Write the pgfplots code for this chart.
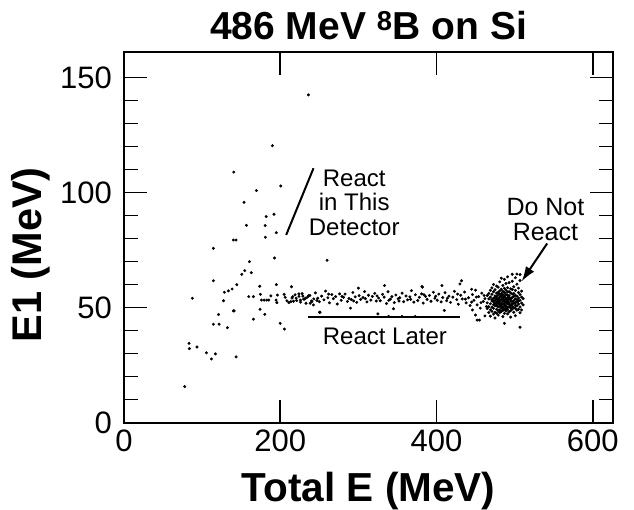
\documentclass[border=0pt]{standalone}
\usepackage{fontspec}
\setmainfont{Liberation Sans}
\usepackage{pgfplots}
\usepackage{pgfplotstable}
\pgfplotsset{compat=1.18}
\usetikzlibrary{arrows.meta}

\pgfplotstableread{
X Y
236 142.5
190 120.4
140.5 108.9
200.7 102.9
169.5 100.9
153.7 95.8
182 89.6
192 90.6
156.7 85.8
180.7 85.7
195 82.6
181 80.6
140 79.4
143.5 79.4
114.4 75.8
192.6 71.6
160.6 70
154.6 66.1
150.8 64.5
163 65.2
114.4 61.7
144.4 60
138.4 58.1
133.7 57.3
128.5 56.7
127.3 53
87.5 54.1
141 48.6
121 47
114.4 42.8
121.7 42.8
132.4 41.3
83.3 34.5
83.7 32.2
93.5 32.9
105.5 30.4
117 29.9
111.9 27.7
143.5 28.6
77.7 15.7
173.8 59.3
195 60
214.4 59.1
159.7 54.8
165.7 54.8
174.7 55.8
176 53.3
179.4 53.3
182.8 53.3
185.4 53.3
188 55.1
194.7 53.3
195.7 52.2
196.4 55.5
205 55.8
206.3 54.5
208.5 53
211 52.2
213.6 52.6
216 54.8
220.4 54.1
223.8 56
225.9 53.3
229.8 53.7
232.3 54.1
236.2 55.2
238.3 51.9
240.5 52.6
242.5 51.2
250.3 48
174.2 49.3
180.2 47.1
165.7 45
199.9 43.2
205.4 40.7
140 48.6
}\scatteredtab

\pgfplotstableread{
X Y
215 54.2
217 52.8
219 55.6
221 53.1
224 54.9
226 52.4
228 56.1
231 53.7
233 51.9
235 54.6
238 55.3
240 52.9
243 53.8
245 56.4
248 54.1
250 52.6
253 55.0
256 53.4
258 57.2
261 54.3
263 52.1
266 55.7
268 53.9
271 54.8
273 51.6
276 56.0
278 53.2
281 54.5
283 55.9
286 52.7
288 54.0
291 53.5
293 56.6
296 54.7
298 52.3
301 55.2
303 53.6
306 54.4
308 57.0
311 52.5
313 55.4
316 53.3
318 54.9
321 56.2
323 52.9
326 54.2
328 53.0
331 55.8
333 54.6
336 51.8
338 56.9
341 53.7
343 54.8
346 52.2
348 55.5
351 53.9
353 54.3
356 56.3
358 52.6
361 55.1
363 53.4
366 54.7
368 57.4
371 52.4
373 55.6
376 53.1
378 54.5
381 56.0
383 52.0
386 54.9
388 53.6
391 55.3
393 52.8
396 56.7
398 54.1
401 53.2
403 55.9
406 52.5
408 54.4
411 56.5
413 53.0
416 55.0
418 52.3
421 54.6
423 57.1
426 53.5
428 51.5
431 55.4
433 53.8
436 56.8
438 52.1
441 54.3
443 50.9
446 55.7
448 53.2
450 57.6
452 51.2
454 54.8
456 49.8
458 56.3
460 52.7
462 53.9
464 50.5
333.5 59.6
381.4 59.2
407 59.6
260 70.6
251 48
325 47.3
338.7 46.2
355.8 46.2
372.8 46.2
432 61.7
445 58
382 58.9
300 58.5
345 49.5
290 49.8
410 48.8
430 60.3
450 46.8
455 44.6
446 49
462 46.4
452 44.6
229 55.0
247 53.1
262 55.9
279 54.9
294 52.9
309 53.9
324 55.1
339 53.2
352 52.9
367 53.6
384 55.6
399 55.0
414 54.1
427 55.9
437 53.7
445 52.4
451 54.6
457 52.2
461 55.3
}\bandtab

\pgfplotstableread{
X Y
465 52.1
465 49.6
465 55.3
467 50.4
467 53.8
467 47.9
467 56.2
469 51.7
469 54.6
469 49.1
469 57.5
469 46.3
471 52.9
471 50.2
471 55.8
471 48.4
471 58.6
471 53.5
473 51.3
473 54.1
473 49.7
473 56.9
473 47.2
473 52.6
473 60.1
475 53.2
475 50.8
475 55.1
475 48.0
475 57.8
475 51.9
475 45.5
475 54.4
477 52.4
477 49.3
477 56.3
477 50.9
477 54.8
477 47.6
477 59.4
477 53.7
477 51.1
479 51.8
479 54.0
479 48.7
479 56.7
479 50.3
479 53.1
479 58.9
479 46.8
479 55.5
479 52.2
481 53.6
481 50.6
481 55.9
481 49.0
481 52.7
481 57.3
481 47.9
481 54.5
481 51.4
481 61.2
483 52.0
483 54.9
483 49.8
483 56.1
483 51.2
483 53.4
483 48.3
483 58.0
483 55.2
483 50.5
483 62.8
485 51.5
485 53.9
485 50.1
485 55.6
485 48.8
485 52.8
485 57.1
485 54.2
485 49.5
485 59.7
485 46.1
487 52.5
487 50.7
487 54.7
487 49.2
487 56.5
487 51.6
487 53.3
487 47.5
487 58.4
487 55.0
487 43.2
487 62.3
489 51.0
489 53.5
489 49.6
489 55.7
489 52.3
489 48.5
489 57.6
489 54.1
489 50.2
489 60.5
491 52.7
491 50.0
491 54.3
491 51.8
491 56.8
491 49.1
491 53.0
491 58.7
491 47.3
491 55.4
491 63.4
493 51.4
493 53.7
493 50.4
493 55.3
493 48.2
493 52.1
493 57.0
493 54.6
493 60.9
495 52.9
495 49.9
495 54.0
495 51.2
495 56.4
495 48.7
495 53.6
495 58.2
495 45.9
497 51.7
497 54.4
497 50.6
497 52.6
497 55.9
497 49.4
497 57.9
497 64.5
497 61.5
499 53.1
499 50.1
499 54.9
499 51.9
499 48.0
499 56.2
499 59.1
501 52.2
501 49.7
501 55.4
501 51.0
501 53.8
501 57.5
501 63.0
501 46.5
503 50.8
503 53.4
503 48.9
503 55.0
503 52.4
503 64.6
503 60.2
505 51.6
505 54.2
505 49.3
505 56.6
505 52.9
505 58.5
507 50.3
507 53.2
507 47.8
507 55.7
507 41.5
507 64.4
507 61.8
509 52.0
509 49.0
509 54.6
509 57.2
511 51.2
511 53.9
}\clustertab

\begin{document}
\begin{tikzpicture}
\begin{axis}[
  scale only axis,
  width=489pt, height=370.4pt,
  xmin=0, xmax=626, ymin=0, ymax=161,
  xtick={0,200,400,600}, ytick={0,50,100,150},
  minor y tick num=4,
  tick align=inside,
  major tick length=23pt, minor tick length=14pt,
  every tick/.style={line width=1.6pt, black},
  axis line style={line width=2.2pt},
  /pgf/number format/assume math mode=true,
  tick label style={font=\fontsize{31}{36}\selectfont, inner sep=0pt},
  yticklabel style={xshift=-12pt},
  xticklabel style={yshift=-7pt},
  clip=false,
]
\coordinate (SW) at (rel axis cs:0,0);
\addplot[only marks, mark=*, mark size=1.3pt, black] table[x=X, y=Y] {\scatteredtab};
\addplot[only marks, mark=*, mark size=1.3pt, black] table[x=X, y=Y] {\bandtab};
\addplot[only marks, mark=*, mark size=1.3pt, black] table[x=X, y=Y] {\clustertab};

\node[anchor=base, font=\bfseries\fontsize{39}{44}\selectfont] at (rel axis cs:0.5,1) [yshift=12.5pt] {486 MeV \textsuperscript{8}B on Si};
\node[anchor=base, font=\bfseries\fontsize{40.5}{46}\selectfont] at (rel axis cs:0.5,0) [yshift=-79.3pt] {Total E (MeV)};
\node[anchor=base, rotate=90, font=\bfseries\fontsize{41.5}{46}\selectfont] at (rel axis cs:-0.1677,0.4528) {E1 (MeV)};

\node[anchor=north, align=center, inner sep=0pt, font=\fontsize{24}{24.3}\selectfont] at (axis cs:294.7,109.9) {React\\in This\\Detector};
\node[anchor=north, align=center, inner sep=0pt, font=\fontsize{25}{24.5}\selectfont] at (axis cs:539.5,97.5) {Do Not\\React};
\node[anchor=north, align=center, inner sep=0pt, font=\fontsize{24}{24.3}\selectfont] at (axis cs:334,41.2) {React Later};

\draw[line width=2pt] (axis cs:242.6,110.6) -- (axis cs:207.6,81.6);
\draw[line width=2pt] (axis cs:236,45.8) -- (axis cs:430,45.8);
\draw[line width=2pt, -{Latex[length=15pt,width=10pt]}] (axis cs:541.7,77.9) -- (axis cs:509,61.4);
\end{axis}
\pgfresetboundingbox
\path[use as bounding box] (SW) ++(-124pt,-87.3pt) rectangle ++(634pt,510pt);
\end{tikzpicture}
\end{document}
